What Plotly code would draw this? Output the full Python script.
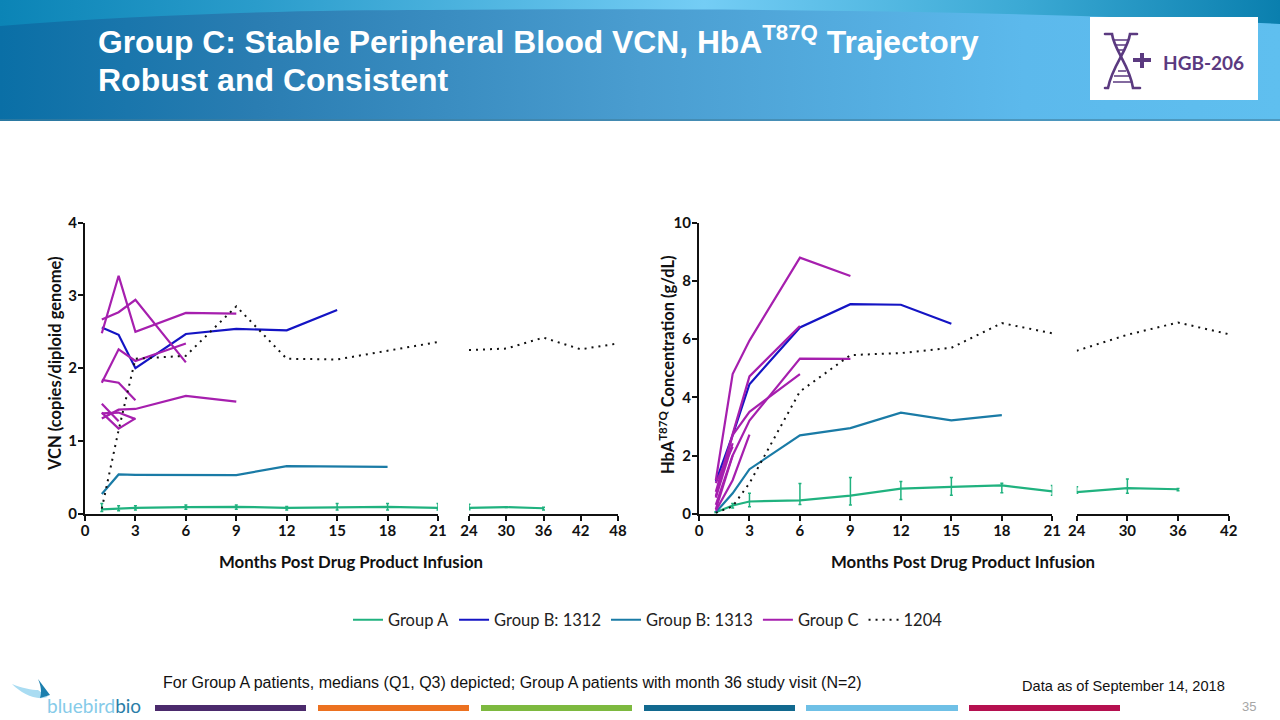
import base64
import plotly.graph_objects as go

W, H = 1280, 720

# ---------- data ----------
months_early = [1, 2, 3, 6, 9, 12, 15, 18, 21]
months_late_vcn = [24, 30, 36, 42, 48]
months_late_hb = [24, 30, 36, 42]
ticks_early = [0, 3, 6, 9, 12, 15, 18, 21]

vcn_a_early = [0.06, 0.07, 0.08, 0.09, 0.095, 0.08, 0.09, 0.095, 0.08]
vcn_a_early_q1 = [0.03, 0.04, 0.05, 0.06, 0.06, 0.05, 0.05, 0.05, 0.05]
vcn_a_early_q3 = [0.14, 0.11, 0.11, 0.12, 0.12, 0.10, 0.14, 0.14, 0.14]
vcn_a_late = [0.08, 0.09, 0.075]
vcn_a_late_q1 = [0.055, 0.085, 0.05]
vcn_a_late_q3 = [0.13, 0.095, 0.09]
vcn_1312 = [2.56, 2.46, 2.0, 2.47, 2.54, 2.52, 2.8]
vcn_1313 = [0.27, 0.54, 0.535, 0.53, 0.53, 0.655, 0.65, 0.645]
vcn_c1 = [2.48, 3.27, 2.5, 2.76, 2.75]
vcn_c2 = [2.67, 2.77, 2.94, 2.08]
vcn_c3 = [1.8, 2.26, 2.1, 2.34]
vcn_c4 = [1.84, 1.8, 1.56]
vcn_c5 = [1.31, 1.43, 1.44, 1.62, 1.54]
vcn_c6 = [1.51, 1.27]
vcn_c7 = [1.39, 1.17, 1.31]
vcn_c8 = [1.38, 1.39, 1.30]
vcn_1204_early = [0.07, 1.15, 2.13, 2.17, 2.85, 2.13, 2.12, 2.24, 2.36]
vcn_1204_late = [2.25, 2.27, 2.42, 2.26, 2.34]

hb_a_early = [0.05, 0.28, 0.42, 0.46, 0.62, 0.86, 0.92, 0.97, 0.77]
hb_a_early_q1 = [0.03, 0.2, 0.24, 0.32, 0.30, 0.49, 0.63, 0.72, 0.63]
hb_a_early_q3 = [0.07, 0.35, 0.70, 1.04, 1.24, 1.11, 1.24, 1.05, 0.97]
hb_a_late = [0.74, 0.88, 0.84]
hb_a_late_q1 = [0.70, 0.70, 0.79]
hb_a_late_q3 = [0.93, 1.19, 0.87]
hb_1312 = [1.1, 2.7, 4.45, 6.4, 7.2, 7.18, 6.53]
hb_1313 = [0.05, 0.7, 1.53, 2.69, 2.94, 3.47, 3.21, 3.39]
hb_c1 = [1.15, 4.8, 5.95, 8.8, 8.17]
hb_c2 = [0.75, 2.7, 4.72, 6.45]
hb_c3 = [0.6, 2.7, 3.5, 4.8]
hb_c4 = [0.3, 2.0, 3.2, 5.33, 5.32]
hb_c5 = [0.55, 2.42]
hb_c6 = [1.05, 2.3]
hb_c7 = [0.1, 1.15, 2.72]
hb_c8 = [0.15, 2.0]
hb_1204_early = [0.03, 0.25, 1.05, 4.2, 5.45, 5.52, 5.7, 6.55, 6.2]
hb_1204_late = [5.6, 6.15, 6.57, 6.17]

legend_names = ["Group A", "Group B: 1312", "Group B: 1313", "Group C", "1204"]
footnote = "For Group A patients, medians (Q1, Q3) depicted; Group A patients with month 36 study visit (N=2)"
data_date = "Data as of September 14, 2018"

# ---------- styles ----------
C_A, C_1312, C_1313, C_C, C_DOT = "#20b27f", "#1414c4", "#1a7ba6", "#a61fae", "#111111"
DOTS = "2px,5px"
BOLD = "Lato"


def px(x):
    return x / W


def py(y):
    return 1 - y / H


fig = go.Figure()


def line(x, y, color, xa, ya, name=None, dash="solid", width=2.2):
    fig.add_trace(go.Scatter(
        x=x[:len(y)], y=y, xaxis=xa, yaxis=ya, mode="lines",
        line=dict(color=color, width=width, dash=dash),
        name=name or "", showlegend=name is not None, hoverinfo="skip"))


def group_a(x, y, q1, q3, xa, ya, name=None):
    fig.add_trace(go.Scatter(
        x=x[:len(y)], y=y, xaxis=xa, yaxis=ya, mode="lines",
        line=dict(color=C_A, width=2.2),
        error_y=dict(type="data", symmetric=False,
                     array=[b - a for a, b in zip(y, q3)],
                     arrayminus=[a - b for a, b in zip(y, q1)],
                     color=C_A, thickness=1.5, width=1.5),
        name=name or "", showlegend=name is not None, hoverinfo="skip"))


# Left panel: VCN
group_a(months_early, vcn_a_early, vcn_a_early_q1, vcn_a_early_q3, "x", "y", legend_names[0])
group_a(months_late_vcn, vcn_a_late, vcn_a_late_q1, vcn_a_late_q3, "x2", "y")
line(months_early, vcn_1312, C_1312, "x", "y", legend_names[1])
line(months_early, vcn_1313, C_1313, "x", "y", legend_names[2])
for i, s in enumerate([vcn_c1, vcn_c2, vcn_c3, vcn_c4, vcn_c5, vcn_c6, vcn_c7, vcn_c8]):
    line(months_early, s, C_C, "x", "y", legend_names[3] if i == 0 else None)
line(months_early, vcn_1204_early, C_DOT, "x", "y", legend_names[4], dash=DOTS, width=2)
line(months_late_vcn, vcn_1204_late, C_DOT, "x2", "y", dash=DOTS, width=2)

# Right panel: HbA T87Q
group_a(months_early, hb_a_early, hb_a_early_q1, hb_a_early_q3, "x3", "y2")
group_a(months_late_hb, hb_a_late, hb_a_late_q1, hb_a_late_q3, "x4", "y2")
line(months_early, hb_1312, C_1312, "x3", "y2")
line(months_early, hb_1313, C_1313, "x3", "y2")
for s in [hb_c1, hb_c2, hb_c3, hb_c4, hb_c5, hb_c6, hb_c7, hb_c8]:
    line(months_early, s, C_C, "x3", "y2")
line(months_early, hb_1204_early, C_DOT, "x3", "y2", dash=DOTS, width=2)
line(months_late_hb, hb_1204_late, C_DOT, "x4", "y2", dash=DOTS, width=2)

tickfont = dict(family=BOLD, size=15, color="#111111", weight="bold")
axis_common = dict(showgrid=False, zeroline=False, showline=True, linecolor="#111111", linewidth=2, automargin=False,
                   ticks="outside", ticklen=5, tickwidth=2, tickcolor="#111111", tickfont=tickfont)
x_axis = dict(ticklabelstandoff=-3, **axis_common)
y_axis = dict(ticklabelstandoff=-2, **axis_common)
y_dom = [py(513.7), py(222.7)]

# ---------- decorative background (banner gradient and logos) ----------
svg = f'''<svg xmlns="http://www.w3.org/2000/svg" width="{W}" height="{H}" viewBox="0 0 {W} {H}">
<defs>
<linearGradient id="m" x1="0" x2="1" y1="0" y2="0">
<stop offset="0" stop-color="#0a6fa6"/><stop offset="0.2" stop-color="#2a7db2"/>
<stop offset="0.5" stop-color="#4a9dd0"/><stop offset="0.8" stop-color="#5cb9ec"/><stop offset="1" stop-color="#5fbfef"/>
</linearGradient>
<linearGradient id="t" x1="0" x2="1" y1="0" y2="0">
<stop offset="0" stop-color="#0b84b6"/><stop offset="0.2" stop-color="#2a9ccb"/>
<stop offset="0.55" stop-color="#74cdf5"/><stop offset="0.8" stop-color="#3ba9d4"/><stop offset="1" stop-color="#0a7fae"/>
</linearGradient>
</defs>
<rect x="0" y="0" width="{W}" height="121" fill="url(#t)"/>
<path d="M0 26 C150 14 300 10 430 10 C700 8 1000 10 1280 24 L1280 121 L0 121 Z" fill="url(#m)"/>
<rect x="0" y="119" width="{W}" height="2" fill="#3f7f9f" opacity="0.6"/>
<rect x="1090" y="17" width="168" height="83" fill="white"/>
<g fill="none" stroke="#5b3a80" stroke-width="2.6" stroke-linecap="round">
<path d="M1105 34 L1112 34 C1114 50 1130 66 1133 88 L1140 88"/>
<path d="M1137 34 L1130 34 C1128 50 1112 66 1108 88 L1105 88"/>
</g>
<g stroke="#5b3a80" stroke-width="1.4">
<path d="M1114 40 L1129 40 M1116 45 L1127 45 M1118 50 L1125 50 M1118 71 L1126 71 M1114 76 L1130 76 M1113 82 L1132 82"/>
</g>
<path d="M1133 58 H1140 V53 H1144 V58 H1151 V62 H1144 V68 H1140 V62 H1133 Z" fill="#5b3a80"/>
<path d="M12 684 C22 688 32 690 38 690 L48 697 C36 701 22 694 12 684 Z" fill="#a9dcf2"/>
<path d="M38 679 L50 695 L40 698 C42 692 41 686 38 679 Z" fill="#1c7fae"/>
</svg>'''
bg = "data:image/svg+xml;base64," + base64.b64encode(svg.encode()).decode()

# ---------- shapes ----------
shapes = []
bars = [(155, 306, "#4b2a6c"), (318, 469, "#ec7120"), (481, 632, "#7db93f"),
        (644, 795, "#12698f"), (806, 958, "#6fc0e6"), (969, 1120, "#b5104f")]
for a, b, c in bars:
    shapes.append(dict(type="rect", xref="paper", yref="paper", x0=px(a), x1=px(b), y0=py(711), y1=py(705),
                       fillcolor=c, line_width=0, layer="below"))


# ---------- text ----------
def note(text, x, y, size, color="#111111", family="Liberation Sans", xanchor="left", angle=0, weight=None):
    return dict(text=text, xref="paper", yref="paper", x=px(x), y=py(y), xanchor=xanchor, yanchor="middle",
                showarrow=False, textangle=angle,
                font=dict(family=family, size=size, color=color, **({"weight": weight} if weight else {})))


annotations = [
    note("<b>Group C: Stable Peripheral Blood VCN, HbA<sup>T87Q</sup> Trajectory</b>", 96, 40, 31.8, "white"),
    note("<b>Robust and Consistent</b>", 96, 80, 32, "white"),
    note("HGB-206", 1161, 62, 19, "#5b3a80", "Lato", weight="bold"),
    note("VCN (copies/diploid genome)", 55, 364, 16.5, family=BOLD, xanchor="center", angle=-90, weight="bold"),
    note("HbA<sup>T87Q</sup> Concentration (g/dL)", 667, 365, 16.5, family=BOLD, xanchor="center", angle=-90, weight="bold"),
    note("Months Post Drug Product Infusion", 351, 561, 16.8, family=BOLD, xanchor="center", weight="bold"),
    note("Months Post Drug Product Infusion", 963, 561, 16.8, family=BOLD, xanchor="center", weight="bold"),
    note(footnote, 161, 682, 16),
    note(data_date, 1020, 686, 14.6),
    note("35", 1240, 706, 13, "#a6a6a6"),
    note('<span style="color:#86cbe9">bluebird</span><span style="color:#2a7ea8">bio</span>', 45, 705, 19, family="Lato"),
]

fig.update_layout(
    width=W, height=H, autosize=False, margin=dict(l=0, r=0, t=0, b=0),
    paper_bgcolor="white", plot_bgcolor="rgba(0,0,0,0)",
    images=[dict(source=bg, xref="paper", yref="paper", x=0, y=1, sizex=1, sizey=1,
                 xanchor="left", yanchor="top", sizing="stretch", layer="below")],
    shapes=shapes, annotations=annotations,
    xaxis=dict(domain=[px(85), px(438)], range=[0, 21], tickvals=ticks_early, anchor="y", **x_axis),
    xaxis2=dict(domain=[px(469), px(618)], range=[24, 48], tickvals=months_late_vcn, anchor="y", **x_axis),
    xaxis3=dict(domain=[px(699), px(1052.3)], range=[0, 21], tickvals=ticks_early, anchor="y2", **x_axis),
    xaxis4=dict(domain=[px(1076.7), px(1228.7)], range=[24, 42], tickvals=months_late_hb, anchor="y2", **x_axis),
    yaxis=dict(domain=y_dom, range=[0, 4], tickvals=[0, 1, 2, 3, 4], anchor="x", **y_axis),
    yaxis2=dict(domain=y_dom, range=[0, 10], tickvals=[0, 2, 4, 6, 8, 10], anchor="x3", **y_axis),
    legend=dict(orientation="h", x=px(648), y=py(620), xanchor="center", yanchor="middle",
                bgcolor="rgba(0,0,0,0)", font=dict(family="Lato", size=16.5, color="#222222"),
                itemwidth=30, traceorder="normal"),
)

fig.write_html("out.html", config={"displayModeBar": False},
               post_script="document.body.style.margin='0';document.documentElement.style.overflow='hidden';")
